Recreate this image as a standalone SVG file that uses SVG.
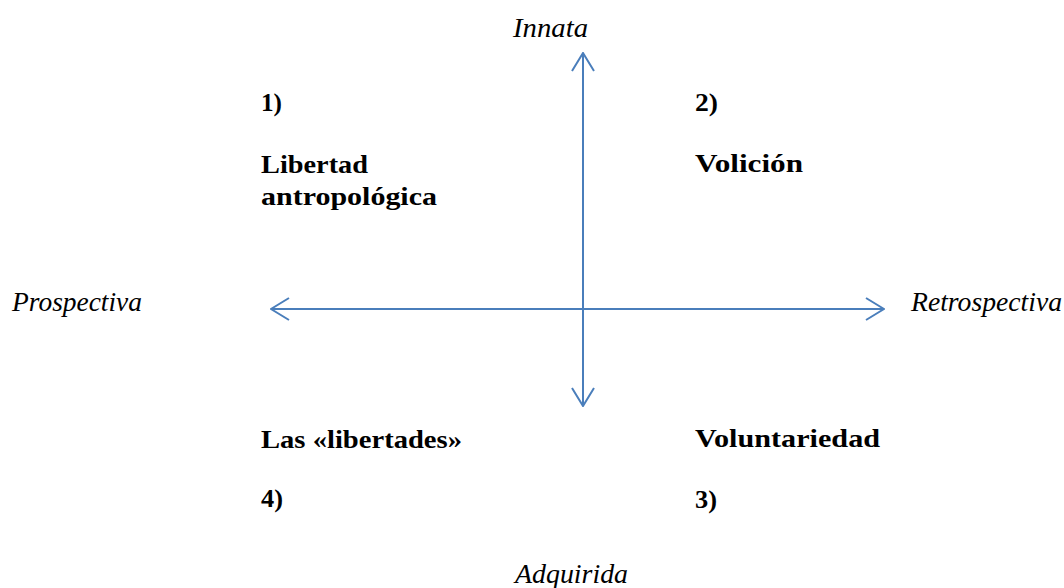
<svg xmlns="http://www.w3.org/2000/svg" width="1064" height="588" viewBox="0 0 1064 588">
<style>
.ax{stroke:#4a7ebb;stroke-width:2;fill:none}
.it{font-family:"Liberation Serif","DejaVu Serif",serif;font-style:italic;font-size:27px;fill:#000}
.bd{font-family:"Liberation Serif","DejaVu Serif",serif;font-weight:bold;font-size:26px;fill:#000}
</style>
<defs>
<marker id="chev" markerUnits="userSpaceOnUse" viewBox="0 0 20 24" refX="19" refY="12" markerWidth="20" markerHeight="24" orient="auto-start-reverse">
<path d="M1,1 L19,12 L1,23" fill="none" stroke="#4a7ebb" stroke-width="2"/>
</marker>
</defs>
<g id="connectors">
<line class="ax" x1="583" y1="53" x2="583" y2="406" marker-start="url(#chev)" marker-end="url(#chev)"/>
<line class="ax" x1="271" y1="309" x2="884" y2="309" marker-start="url(#chev)" marker-end="url(#chev)"/>
</g>
<g id="innata"><text class="it" x="513" y="37" textLength="75" lengthAdjust="spacingAndGlyphs">Innata</text></g>
<g id="adquirida"><text class="it" x="515" y="583" textLength="113" lengthAdjust="spacingAndGlyphs">Adquirida</text></g>
<g id="prospectiva"><text class="it" x="12" y="311" textLength="130" lengthAdjust="spacingAndGlyphs">Prospectiva</text></g>
<g id="retrospectiva"><text class="it" x="911" y="311" textLength="151" lengthAdjust="spacingAndGlyphs">Retrospectiva</text></g>
<g id="q1">
<text class="bd" x="261" y="111" textLength="21" lengthAdjust="spacingAndGlyphs">1)</text>
<text class="bd" x="261" y="173" textLength="107" lengthAdjust="spacingAndGlyphs">Libertad</text>
<text class="bd" x="261" y="205" textLength="176" lengthAdjust="spacingAndGlyphs">antropológica</text>
</g>
<g id="q2">
<text class="bd" x="695" y="111" textLength="23" lengthAdjust="spacingAndGlyphs">2)</text>
<text class="bd" x="695" y="172" textLength="108" lengthAdjust="spacingAndGlyphs">Volición</text>
</g>
<g id="q4">
<text class="bd" x="261" y="448" textLength="201" lengthAdjust="spacingAndGlyphs">Las «libertades»</text>
<text class="bd" x="261" y="507" textLength="22" lengthAdjust="spacingAndGlyphs">4)</text>
</g>
<g id="q3">
<text class="bd" x="695" y="447" textLength="185" lengthAdjust="spacingAndGlyphs">Voluntariedad</text>
<text class="bd" x="695" y="508" textLength="22" lengthAdjust="spacingAndGlyphs">3)</text>
</g>
</svg>
